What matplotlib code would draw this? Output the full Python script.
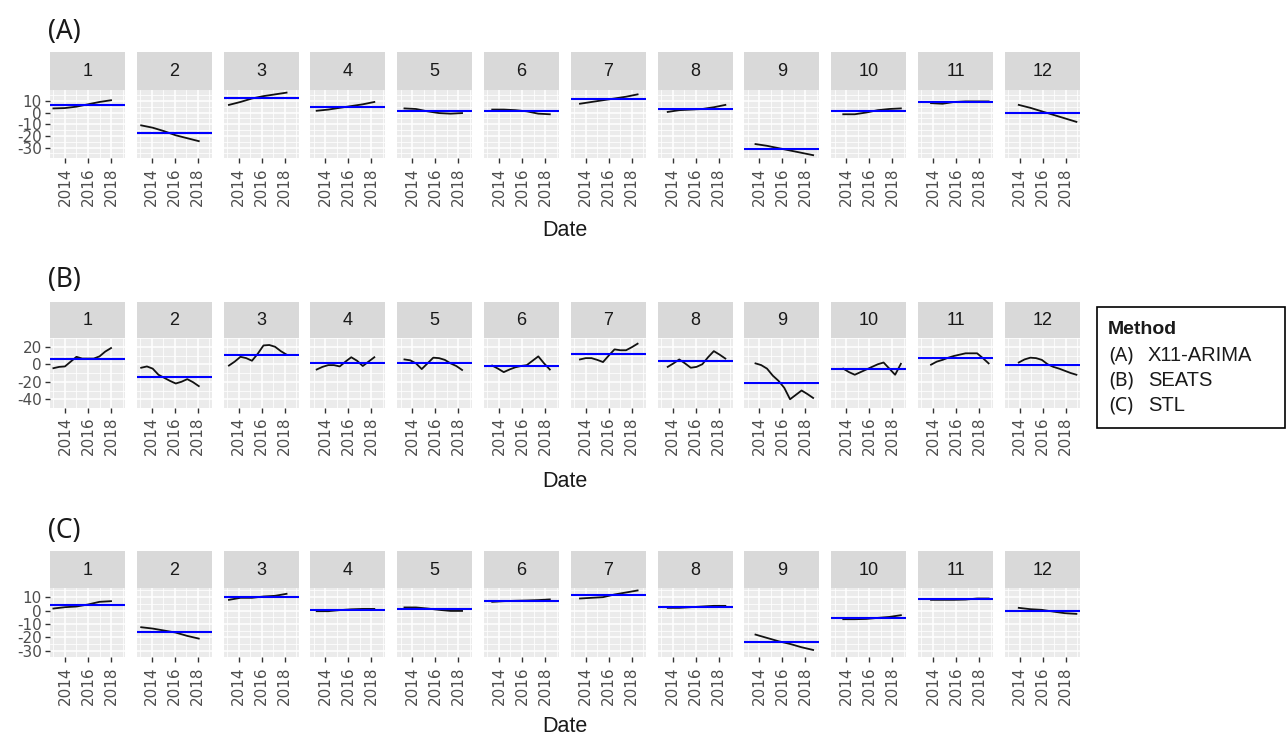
import numpy as np
import matplotlib
matplotlib.use("Agg")
import matplotlib.pyplot as plt
from matplotlib.patches import Rectangle

# ---------------- data ----------------
months = list(range(1, 13))
years_annual = [2013, 2014, 2015, 2016, 2017, 2018]
years_half = [2013, 2013.5, 2014, 2014.5, 2015, 2015.5, 2016, 2016.5, 2017, 2017.5, 2018]

# (A) X11-ARIMA seasonal subseries, one list per month
x11_arima = [
    [3.5, 3.8, 5, 7, 9, 10.5],
    [-11, -13, -16, -19.5, -22, -24.5],
    [6.5, 9, 12, 14, 15.5, 17],
    [1.5, 2.5, 4, 5.5, 7, 9],
    [3.5, 3, 1, -0.5, -1, -0.5],
    [2.5, 2.5, 2, 1, -1, -1.5],
    [7.5, 9, 10.5, 12, 13.5, 15.5],
    [0.5, 2, 2.5, 3, 4.5, 6.5],
    [-27, -28.5, -30.5, -32.5, -34.5, -36.5],
    [-1.5, -1.5, 0, 2, 3, 3.5],
    [8, 7.5, 9, 9.5, 9.5, 9.5],
    [6.5, 4, 1, -2, -5, -8],
]

# (B) SEATS seasonal subseries
seats = [
    [-4.5, -3, -2.5, 3, 8.5, 6.5, 6.5, 6.5, 9, 14.5, 18.5],
    [-4, -2.5, -5, -12, -15.5, -19, -22, -20, -17, -20.5, -25],
    [-1.5, 3, 8.5, 7, 4, 12, 21.5, 22, 20, 15, 11],
    [-6, -3, -1, -1, -2.5, 3, 8, 4, -2, 3, 8],
    [5.5, 4.5, 1, -5.5, 1, 7.5, 7, 5, 1, -2, -6.5],
    [-1.5, -5, -9, -6, -3.5, -2, -1, 4, 9, 1, -6],
    [5.5, 7, 7, 5, 2.5, 10, 17, 16, 16, 19.5, 23.5],
    [-3, 1, 5.5, 1, -4, -3, 0, 8, 15, 11, 6.5],
    [1, -1, -5, -13, -19, -27, -40, -35, -30, -34, -38.5],
    [-5, -9, -12, -9, -6, -3, 0, 2, -5, -12, 0.5],
    [-0.5, 3, 5, 7.5, 9.5, 11, 12.5, 12.5, 12.5, 7, 1],
    [2, 5.5, 7.5, 7, 5, 0, -3, -5, -7.5, -10, -12],
]

# (C) STL seasonal subseries
stl = [
    [1.5, 2.5, 3, 4.5, 6.5, 7],
    [-12.5, -13.5, -15, -16.5, -19, -21],
    [8, 9.5, 9.5, 10.5, 11, 12.5],
    [-0.5, -0.5, 0.3, 0.9, 1.2, 1.2],
    [2.3, 2.3, 1.5, 0.5, -0.3, -0.3],
    [6.5, 7, 7.3, 7.5, 7.8, 8.3],
    [9, 9.5, 10, 12, 13.5, 15],
    [2, 2, 2.5, 3, 3.5, 3.5],
    [-18, -20.5, -23, -25, -27.5, -29.5],
    [-6.5, -6.5, -6.3, -5.5, -4.8, -3.5],
    [8, 8, 8, 8.2, 9, 9],
    [2, 1, 0.5, -0.8, -2, -2.5],
]

row_titles = ["(A)", "(B)", "(C)"]
row_yticks = [[-30, -20, -10, 0, 10], [-40, -20, 0, 20], [-30, -20, -10, 0, 10]]
x_major = [2014, 2016, 2018]
x_minor = [2013, 2015, 2017, 2019]
legend_title = "Method"
legend_keys = ["(A)", "(B)", "(C)"]
legend_names = ["X11-ARIMA", "SEATS", "STL"]

# ---------------- layout ----------------
W, H = 1287, 738
fig = plt.figure(figsize=(W / 100, H / 100), dpi=100)
fig.patch.set_facecolor("white")


def fx(px):
    return px / W


def fy(py):
    return 1 - py / H


rows = [
    dict(data=x11_arima, years=years_annual, strip_top=52, panel_top=89.5, panel_bot=158.3,
         title_y=32, date_y=230),
    dict(data=seats, years=years_half, strip_top=301.7, panel_top=338, panel_bot=408,
         title_y=280, date_y=481),
    dict(data=stl, years=years_annual, strip_top=550.7, panel_top=587.5, panel_bot=657.3,
         title_y=531, date_y=726),
]

# shared x range (ggplot-style 5% expansion)
all_x = []
for r in rows:
    for m in months:
        all_x += [y + (m - 1) / 12 for y in r["years"]]
xmin, xmax = min(all_x), max(all_x)
xpad = 0.05 * (xmax - xmin)
xlim = (xmin - xpad, xmax + xpad)

panel_left0 = 50
panel_step = 86.8
panel_w = 75

tick_color = "#4D4D4D"
tick_font = "DejaVu Sans"

for ri, r in enumerate(rows):
    data = r["data"]
    vals_all = np.concatenate([np.asarray(v, float) for v in data])
    ymin, ymax = vals_all.min(), vals_all.max()
    ypad = 0.05 * (ymax - ymin)
    ylim = (ymin - ypad, ymax + ypad)
    yt = row_yticks[ri]
    step = yt[1] - yt[0]
    yminor = [t + step / 2 for t in [yt[0] - step] + yt]
    ph = r["panel_bot"] - r["panel_top"]
    sh = r["panel_top"] - r["strip_top"]
    for k, m in enumerate(months):
        left = panel_left0 + k * panel_step
        ax = fig.add_axes([fx(left), fy(r["panel_bot"]), fx(panel_w), ph / H])
        ax.set_facecolor("#EBEBEB")
        for s in ax.spines.values():
            s.set_visible(False)
        xs = [y + (m - 1) / 12 for y in r["years"]]
        vals = data[k]
        ax.plot(xs, vals, color="#111111", lw=1.3, zorder=3)
        ax.axhline(np.mean(vals), color="#0000FF", lw=1.5, zorder=4)
        ax.set_xlim(*xlim)
        ax.set_ylim(*ylim)
        ax.set_xticks(x_major)
        ax.set_xticks(x_minor, minor=True)
        ax.set_yticks(yt)
        ax.set_yticks(yminor, minor=True)
        ax.set_axisbelow(True)
        ax.grid(which="major", color="white", lw=1.1)
        ax.grid(which="minor", color="white", lw=0.55)
        ax.set_xticklabels([str(v) for v in x_major], rotation=90,
                           fontsize=11, color=tick_color, family=tick_font)
        ax.tick_params(which="minor", length=0)
        ax.tick_params(axis="x", which="major", length=3.8, width=1.0,
                       color="#333333", pad=2.5)
        if k == 0:
            ax.set_yticklabels([str(v) for v in yt], fontsize=11,
                               color=tick_color, family=tick_font)
            ax.tick_params(axis="y", which="major", length=3.8, width=1.0,
                           color="#333333", pad=2)
        else:
            ax.tick_params(axis="y", which="both", left=False, labelleft=False)
        # strip
        fig.patches.append(Rectangle((fx(left), fy(r["panel_top"])), fx(panel_w), sh / H,
                                     transform=fig.transFigure, facecolor="#D9D9D9",
                                     edgecolor="none", zorder=0))
        fig.text(fx(left + panel_w / 2), fy(r["strip_top"] + sh / 2 + 1), str(m),
                 ha="center", va="center", fontsize=13, color="#1A1A1A",
                 family="Liberation Sans")
    # row title and x-axis label
    fig.text(fx(48), fy(r["title_y"]), row_titles[ri], ha="left", va="center",
             fontsize=19, color="#1A1A1A", family="Noto Sans")
    fig.text(fx(565), fy(r["date_y"]), "Date", ha="center", va="center",
             fontsize=15.5, color="#1A1A1A", family="Liberation Sans")

# legend box
fig.patches.append(Rectangle((fx(1097), fy(428)), fx(1285 - 1097), (428 - 307) / H,
                             transform=fig.transFigure, facecolor="white",
                             edgecolor="black", lw=1.2, zorder=1))
fig.text(fx(1108), fy(330), legend_title, ha="left", va="center", fontsize=14,
         fontweight="bold", color="#1A1A1A", family="Liberation Sans")
for i, (kk, nm) in enumerate(zip(legend_keys, legend_names)):
    yy = 356 + i * 24.5
    fig.text(fx(1109), fy(yy), kk, ha="left", va="center", fontsize=14,
             color="#1A1A1A", family="Noto Sans")
    fig.text(fx(1148), fy(yy), nm, ha="left", va="center", fontsize=14.5,
             color="#1A1A1A", family="Liberation Sans")

fig.savefig("out.png", dpi=100, facecolor="white")
